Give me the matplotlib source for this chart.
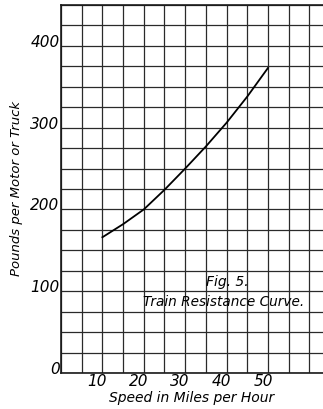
import numpy as np
import matplotlib.pyplot as plt
import matplotlib.transforms as mtransforms

# values (speed in mph, pounds per motor or truck)
speed = [10, 15, 20, 25, 30, 35, 40, 45, 50]
pounds = [166, 182, 200, 224, 250, 277, 306, 338, 373]
x_ticks = [10, 20, 30, 40, 50]
y_ticks = [0, 100, 200, 300, 400]

plt.rcParams['font.family'] = ['DejaVu Sans']
plt.rcParams['font.style'] = 'italic'

fig = plt.figure(figsize=(3.23, 4.09), dpi=100)
ax = fig.add_axes([61 / 323, 36 / 409, 1 - 61 / 323, 368 / 409])

ax.plot(speed, pounds, color='black', lw=1.3)

ax.set_xlim(0, 63.3)
ax.set_ylim(0, 450)

ax.set_xticks(x_ticks)
ax.set_xticklabels([str(v) for v in x_ticks], fontsize=11)
ax.set_xticks(np.arange(0, 65, 5), minor=True)
ax.set_yticks(y_ticks)
ax.set_yticklabels([str(v) for v in y_ticks], fontsize=11)
ax.set_yticks(np.arange(0, 451, 25), minor=True)

ax.grid(which='both', color='#2a2a2a', lw=0.9)
ax.tick_params(which='both', length=0, pad=1)

# shift the labels a little like the printed figure
for lab in ax.get_xticklabels():
    lab.set_transform(lab.get_transform() + mtransforms.ScaledTranslation(-0.05, 0, fig.dpi_scale_trans))
for lab in ax.get_yticklabels():
    lab.set_transform(lab.get_transform() + mtransforms.ScaledTranslation(0, 0.05, fig.dpi_scale_trans))

for side in ['left', 'bottom', 'top']:
    ax.spines[side].set_color('#1a1a1a')
    ax.spines[side].set_linewidth(1.2)
ax.spines['right'].set_visible(False)

ax.set_xlabel('Speed in Miles per Hour', fontsize=10, labelpad=1)
ax.set_ylabel('Pounds per Motor or Truck', fontsize=9.5, labelpad=5)

ax.text(40.1, 111, 'Fig. 5.', fontsize=10, ha='center', va='center')
ax.text(39.4, 87, 'Train Resistance Curve.', fontsize=9.8, ha='center', va='center')

plt.savefig('out.png', dpi=100)
